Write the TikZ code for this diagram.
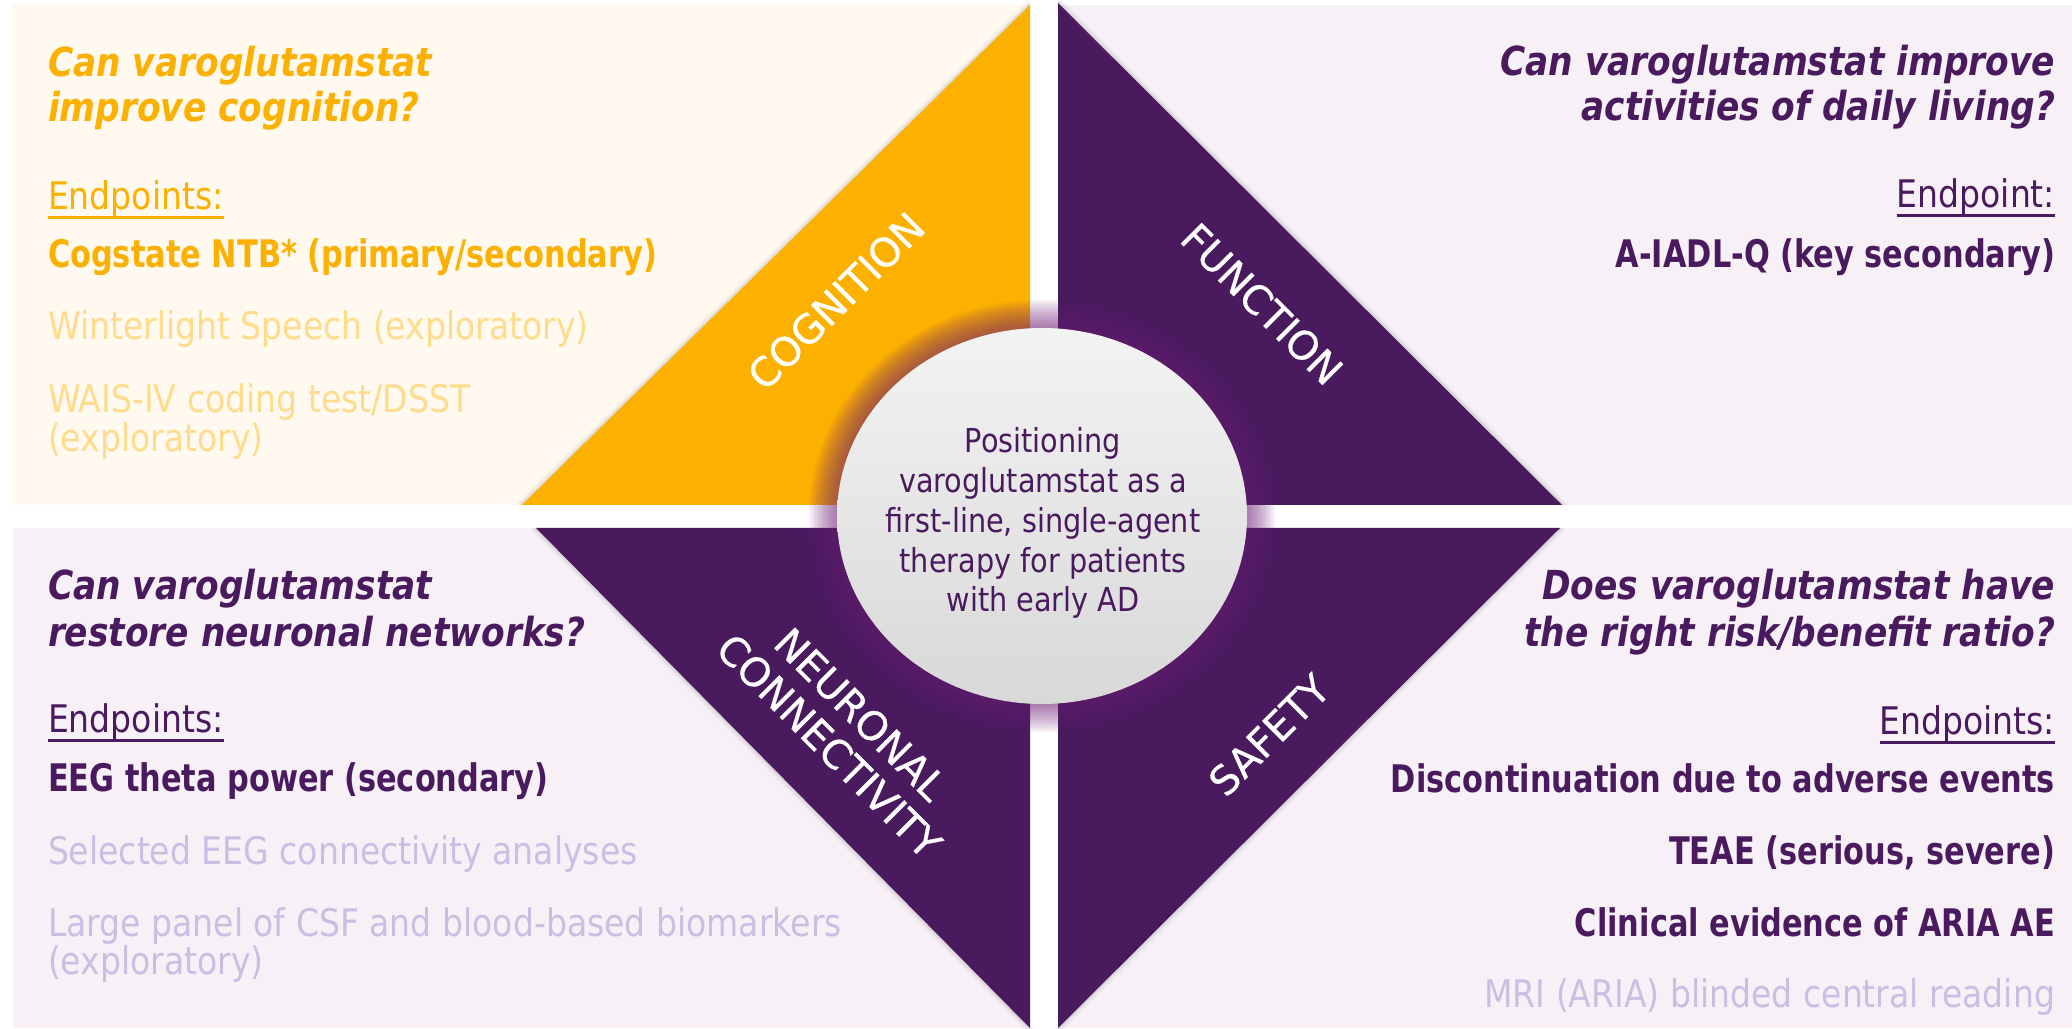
\documentclass[tikz,border=0pt]{standalone}
\usepackage{fontspec}
\setmainfont{DejaVu Sans}
\newfontfamily\preg{DejaVu Sans}[FakeStretch=0.87]
\newfontfamily\pbold{DejaVu Sans}[FakeStretch=0.80]
\newfontfamily\pques{DejaVu Sans}[FakeStretch=0.86]
\newfontfamily\plab{DejaVu Sans}[FakeBold=0.6]
\usetikzlibrary{shapes.geometric}
\definecolor{cyel}{RGB}{252,176,0}
\definecolor{cpur}{RGB}{74,26,94}
\definecolor{cbgY}{RGB}{255,249,240}
\definecolor{cbgP}{RGB}{247,240,247}
\definecolor{cyelL}{RGB}{255,220,140}
\definecolor{cpurL}{RGB}{200,192,226}
\definecolor{cglow}{RGB}{110,30,120}
\definecolor{ctop}{RGB}{243,243,243}
\definecolor{cbot}{RGB}{216,216,216}
\tikzset{
  every node/.style={inner sep=0pt, outer sep=0pt},
  ques/.style={font=\pques\bfseries\itshape\fontsize{40}{45}\selectfont},
  epl/.style={font=\preg\fontsize{38}{45}\selectfont},
  bitem/.style={font=\pbold\bfseries\fontsize{38}{45}\selectfont},
  ritem/.style={font=\preg\fontsize{38}{45}\selectfont},
  tlab/.style={font=\plab\fontsize{40}{45}\selectfont, text=white, align=center},
  ctext/.style={font=\preg\fontsize{33}{40}\selectfont, text=cpur, anchor=base},
  uline/.style={line width=3pt},
  lft/.style={anchor=base west},
  rgt/.style={anchor=base east},
  tshadow/.style={draw=black, line join=round}
}
\begin{document}
\begin{tikzpicture}[x=1pt,y=1pt]
\useasboundingbox (0,0) rectangle (2072,1028);
\fill[white] (0,0) rectangle (2072,1028);
% panels
\fill[cbgY] (12,1023) rectangle (1030,523);
\fill[cbgP] (1058,1023) rectangle (2072,523);
\fill[cbgP] (13,500) rectangle (1030,0);
\fill[cbgP] (1058,500) rectangle (2072,0);
% soft shadows of the triangles
\foreach \w/\o in {10/0.03, 6/0.04, 3/0.05}{
  \draw[tshadow, line width=\w pt, opacity=\o] (1030,1023) -- (522,523) -- (1030,523) -- cycle;
  \draw[tshadow, line width=\w pt, opacity=\o] (1058,1025) -- (1058,523) -- (1562,523) -- cycle;
  \draw[tshadow, line width=\w pt, opacity=\o] (536,500) -- (1030,500) -- (1030,0) -- cycle;
  \draw[tshadow, line width=\w pt, opacity=\o] (1058,500) -- (1560,500) -- (1058,0) -- cycle;
}
% clear the gaps again
\fill[white] (1030,0) rectangle (1058,1028);
\fill[white] (0,500) rectangle (2072,523);
% triangles
\fill[cyel] (1030,1023) -- (522,523) -- (1030,523) -- cycle;
\fill[cpur] (1058,1025) -- (1058,523) -- (1562,523) -- cycle;
\fill[cpur] (536,500) -- (1030,500) -- (1030,0) -- cycle;
\fill[cpur] (1058,500) -- (1560,500) -- (1058,0) -- cycle;
% triangle labels
\node[tlab, rotate=45] (lcog) at (836,727) {COGNITION};
\node[tlab, rotate=-45] (lfun) at (1262,724) {FUNCTION};
\node[tlab, rotate=-45] (lneu) at (845,298) {NEURONAL\\[0pt]CONNECTIVITY};
\node[tlab, rotate=45] (lsaf) at (1269,293) {SAFETY};
% glow
\foreach \i in {1,...,14}
  \fill[cglow, opacity=0.055] (1042,512) ellipse ({205+2*\i} and {188+2*\i});
% central ellipse
\node[ellipse, minimum width=410pt, minimum height=376pt, top color=ctop, bottom color=cbot, draw=none] (circ) at (1042,512) {};
\node[ctext] (c1) at (1043,575) {Positioning};
\node[ctext] (c2) at (1043,535) {varoglutamstat as a};
\node[ctext] (c3) at (1043,495) {first-line, single-agent};
\node[ctext] (c4) at (1043,455) {therapy for patients};
\node[ctext] (c5) at (1043,416) {with early AD};
% top-left
\node[ques, lft, text=cyel] (tlq1) at (48,951) {Can varoglutamstat};
\node[ques, lft, text=cyel] (tlq2) at (48,906) {improve cognition?};
\node[epl, lft, text=cyel] (tlep) at (48,818) {Endpoints:};
\draw[uline, cyel] ([yshift=-8pt]tlep.base west) -- ([yshift=-8pt]tlep.base east);
\node[bitem, lft, text=cyel] (tl1) at (48,760) {Cogstate NTB* (primary/secondary)};
\node[ritem, lft, text=cyelL] (tl2) at (48,688) {Winterlight Speech (exploratory)};
\node[ritem, lft, text=cyelL] (tl3) at (48,615) {WAIS-IV coding test/DSST};
\node[ritem, lft, text=cyelL] (tl4) at (48,576) {(exploratory)};
% top-right
\node[ques, rgt, text=cpur] (trq1) at (2055,952) {Can varoglutamstat improve};
\node[ques, rgt, text=cpur] (trq2) at (2055,907) {activities of daily living?};
\node[epl, rgt, text=cpur] (trep) at (2055,820) {Endpoint:};
\draw[uline, cpur] ([yshift=-8pt]trep.base west) -- ([yshift=-8pt]trep.base east);
\node[bitem, rgt, text=cpur] (tr1) at (2055,760) {A-IADL-Q (key secondary)};
% bottom-left
\node[ques, lft, text=cpur] (blq1) at (48,428) {Can varoglutamstat};
\node[ques, lft, text=cpur] (blq2) at (48,381) {restore neuronal networks?};
\node[epl, lft, text=cpur] (blep) at (48,295) {Endpoints:};
\draw[uline, cpur] ([yshift=-8pt]blep.base west) -- ([yshift=-8pt]blep.base east);
\node[bitem, lft, text=cpur] (bl1) at (48,236) {EEG theta power (secondary)};
\node[ritem, lft, text=cpurL] (bl2) at (48,163) {Selected EEG connectivity analyses};
\node[ritem, lft, text=cpurL] (bl3) at (48,91) {Large panel of CSF and blood-based biomarkers};
\node[ritem, lft, text=cpurL] (bl4) at (48,53) {(exploratory)};
% bottom-right
\node[ques, rgt, text=cpur] (brq1) at (2055,428) {Does varoglutamstat have};
\node[ques, rgt, text=cpur] (brq2) at (2055,381) {the right risk/benefit ratio?};
\node[epl, rgt, text=cpur] (brep) at (2055,293) {Endpoints:};
\draw[uline, cpur] ([yshift=-8pt]brep.base west) -- ([yshift=-8pt]brep.base east);
\node[bitem, rgt, text=cpur] (br1) at (2055,235) {Discontinuation due to adverse events};
\node[bitem, rgt, text=cpur] (br2) at (2055,163) {TEAE (serious, severe)};
\node[bitem, rgt, text=cpur] (br3) at (2055,91) {Clinical evidence of ARIA AE};
\node[ritem, rgt, text=cpurL] (br4) at (2055,20) {MRI (ARIA) blinded central reading};
\end{tikzpicture}
\end{document}
